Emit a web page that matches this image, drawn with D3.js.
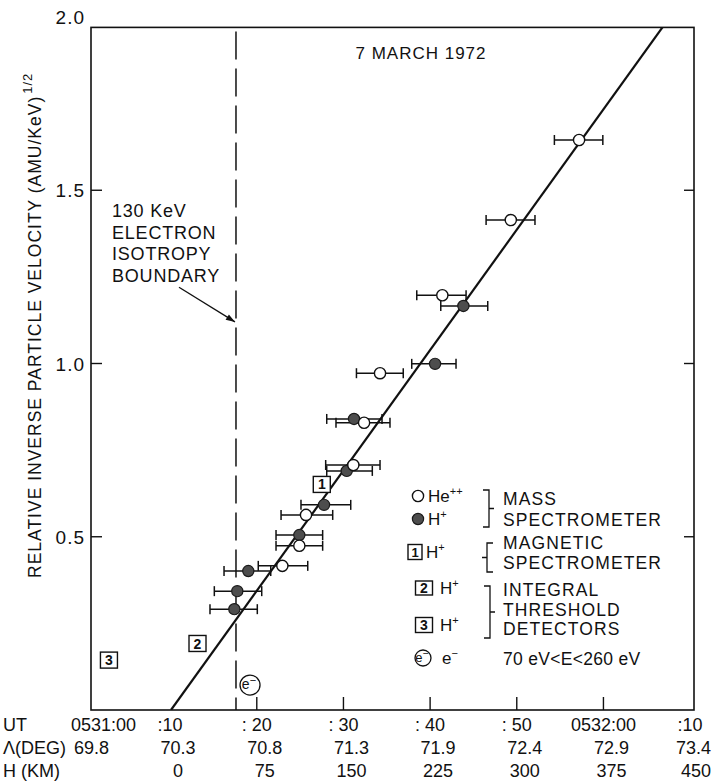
<!DOCTYPE html>
<html>
<head>
<meta charset="utf-8">
<script src="https://cdn.jsdelivr.net/npm/d3@7"></script>
<style>
body { margin: 0; background: #fff; }
svg text { font-family: "Liberation Sans", Arial, sans-serif; fill: #111; }
</style>
</head>
<body>
<div class="app"></div>
<script>
// time in seconds after 0531:00 UT, value = relative inverse velocity
var heTime  = [22.95, 24.91, 25.68, 31.14, 32.38, 34.22, 41.41, 49.31, 57.19];
var heValue = [0.416, 0.474, 0.563, 0.707, 0.829, 0.972, 1.197, 1.414, 1.645];
var heErrLo = [20.17, 22.22, 22.80, 27.95, 29.14, 31.50, 38.46, 46.46, 54.34];
var heErrHi = [25.88, 27.60, 28.76, 34.22, 35.37, 36.90, 44.15, 52.10, 59.93];

var hTime  = [17.41, 17.75, 19.02, 24.91, 27.76, 30.38, 31.22, 40.57, 43.84];
var hValue = [0.291, 0.343, 0.401, 0.505, 0.592, 0.690, 0.840, 0.999, 1.166];
var hErrLo = [14.60, 15.10, 16.22, 22.22, 25.10, 28.07, 28.07, 37.88, 41.23];
var hErrHi = [20.06, 20.57, 21.61, 27.60, 30.84, 33.33, 34.45, 42.99, 46.65];

var boxLabel = ["1", "2", "3"];
var boxTime  = [27.5, 13.16, 2.94];
var boxValue = [0.651, 0.192, 0.144];

var electronTime = 19.22;
var electronValue = 0.072;
var boundaryTime = 17.6;

var fitTime  = [10.1, 67.67];
var fitValue = [0.0, 2.0];

var yTicks = [0.5, 1.0, 1.5];
var yTickLabels = [0.5, 1.0, 1.5, 2.0];
var utTicks = [20, 30, 40, 50, 60];
var labelTime = [0, 10, 20, 30, 40, 50, 60, 70];
var utLabels  = ["0531:00", ":10", ": 20", ": 30", ": 40", ": 50", "0532:00", ":10"];
var latLabels = ["69.8", "70.3", "70.8", "71.3", "71.9", "72.4", "72.9", "73.4"];
var altLabels = ["", "0", "75", "150", "225", "300", "375", "450"];

var width = 714, height = 781;
var svg = d3.select(".app").append("svg").attr("width", width).attr("height", height);

var x = d3.scaleLinear().domain([0.87, 70.45]).range([91, 694]);
var y = d3.scaleLinear().domain([0, 1.97]).range([710, 27.4]);

var plotLeft = x.range()[0], plotRight = x.range()[1];
var plotTop = y.range()[1], plotBottom = y.range()[0];

svg.append("clipPath").attr("id", "frame")
    .append("rect").attr("x", plotLeft).attr("y", plotTop)
    .attr("width", plotRight - plotLeft).attr("height", plotBottom - plotTop);

// frame
svg.append("rect").attr("x", plotLeft).attr("y", plotTop)
    .attr("width", plotRight - plotLeft).attr("height", plotBottom - plotTop)
    .attr("fill", "none").attr("stroke", "#111").attr("stroke-width", 1.6);

// y ticks, inside on both sides
yTicks.forEach(function(v){
    svg.append("line").attr("x1", plotLeft).attr("x2", plotLeft + 11).attr("y1", y(v)).attr("y2", y(v))
        .attr("stroke", "#111").attr("stroke-width", 1.4);
    svg.append("line").attr("x1", plotRight - 10).attr("x2", plotRight).attr("y1", y(v)).attr("y2", y(v))
        .attr("stroke", "#111").attr("stroke-width", 1.4);
});
svg.selectAll(".ylab").data(yTickLabels).enter().append("text")
    .attr("x", plotLeft - 6).attr("y", function(d){ return y(d) + 7; })
    .attr("text-anchor", "end").attr("font-size", 19).attr("letter-spacing", 1)
    .text(function(d){ return d.toFixed(1); });

// x ticks on bottom axis
utTicks.forEach(function(t){
    svg.append("line").attr("x1", x(t)).attr("x2", x(t)).attr("y1", plotBottom).attr("y2", plotBottom - 13)
        .attr("stroke", "#111").attr("stroke-width", 1.4);
});

// bottom label rows
function labelRow(title, labels, off, yy){
    svg.append("text").attr("x", 3).attr("y", yy).attr("font-size", 18).text(title);
    var rowStart = title === "UT" ? 71 : 70;
    labels.forEach(function(s, i){
        if (!s) return;
        var cx = x(labelTime[i]) + off;
        var t = svg.append("text").attr("x", cx).attr("y", yy)
            .attr("text-anchor", "middle").attr("font-size", 18).text(s);
        var w = t.node().getComputedTextLength();
        if (cx - w / 2 < rowStart) cx = rowStart + w / 2;
        if (cx + w / 2 > 711) cx = 711 - w / 2;
        t.attr("x", cx);
    });
}
labelRow("UT", utLabels, 0, 731);
labelRow("\u039B(DEG)", latLabels, 8, 754);
labelRow("H (KM)", altLabels, 8, 777);

// axis title
var yt = svg.append("text").attr("transform", "translate(41,578) rotate(-90)")
    .attr("font-size", 17.5).attr("letter-spacing", 1);
yt.append("tspan").text("RELATIVE INVERSE PARTICLE VELOCITY (AMU/KeV)");
yt.append("tspan").attr("dy", -9).attr("dx", 2).attr("font-size", 13).text("1/2");

// title
svg.append("text").attr("x", 421).attr("y", 59).attr("text-anchor", "middle")
    .attr("font-size", 17).attr("letter-spacing", 1).text("7 MARCH 1972");

// isotropy boundary
svg.append("line").attr("x1", x(boundaryTime)).attr("x2", x(boundaryTime))
    .attr("y1", plotTop + 4).attr("y2", plotBottom)
    .attr("stroke", "#111").attr("stroke-width", 1.5).attr("stroke-dasharray", "28,9");

var note = ["130 KeV", "ELECTRON", "ISOTROPY", "BOUNDARY"];
note.forEach(function(s, i){
    svg.append("text").attr("x", 112).attr("y", 217 + i * 21.5).attr("font-size", 18)
        .attr("letter-spacing", 0.8).text(s);
});
svg.append("defs").append("marker").attr("id", "arr").attr("viewBox", "0 0 10 10")
    .attr("refX", 10).attr("refY", 5).attr("markerWidth", 9).attr("markerHeight", 7).attr("orient", "auto")
    .append("path").attr("d", "M0,1.5L10,5L0,8.5z").attr("fill", "#111");
svg.append("line").attr("x1", x(boundaryTime) - 57).attr("y1", y(1.22))
    .attr("x2", x(boundaryTime) - 1).attr("y2", y(1.12))
    .attr("stroke", "#111").attr("stroke-width", 1.3).attr("marker-end", "url(#arr)");

// fitted line
var line = d3.line().x(function(d){ return x(d[0]); }).y(function(d){ return y(d[1]); });
svg.append("path").datum(d3.zip(fitTime, fitValue)).attr("d", line)
    .attr("clip-path", "url(#frame)").attr("fill", "none").attr("stroke", "#111").attr("stroke-width", 2.2);

// error bars
function errorBars(ts, vs, lo, hi){
    ts.forEach(function(t, i){
        var g = svg.append("g").attr("stroke", "#111").attr("stroke-width", 1.5);
        g.append("line").attr("x1", x(lo[i])).attr("x2", x(hi[i])).attr("y1", y(vs[i])).attr("y2", y(vs[i]));
        g.append("line").attr("x1", x(lo[i])).attr("x2", x(lo[i])).attr("y1", y(vs[i]) - 5).attr("y2", y(vs[i]) + 5);
        g.append("line").attr("x1", x(hi[i])).attr("x2", x(hi[i])).attr("y1", y(vs[i]) - 5).attr("y2", y(vs[i]) + 5);
    });
}
errorBars(hTime, hValue, hErrLo, hErrHi);
errorBars(heTime, heValue, heErrLo, heErrHi);

svg.selectAll(".hp").data(d3.zip(hTime, hValue)).enter().append("circle")
    .attr("cx", function(d){ return x(d[0]); }).attr("cy", function(d){ return y(d[1]); }).attr("r", 5.6)
    .attr("fill", "#4d4d4d").attr("stroke", "#1a1a1a").attr("stroke-width", 1.2);
svg.selectAll(".hep").data(d3.zip(heTime, heValue)).enter().append("circle")
    .attr("cx", function(d){ return x(d[0]); }).attr("cy", function(d){ return y(d[1]); }).attr("r", 5.6)
    .attr("fill", "#fff").attr("stroke", "#111").attr("stroke-width", 1.4);

// detector boxes
function numBox(cx, cy, s, w, h, fs){
    svg.append("rect").attr("x", cx - w / 2).attr("y", cy - h / 2).attr("width", w).attr("height", h)
        .attr("fill", "#fff").attr("stroke", "#111").attr("stroke-width", 1.4);
    svg.append("text").attr("x", cx).attr("y", cy + fs * 0.36).attr("text-anchor", "middle")
        .attr("font-size", fs).attr("font-weight", "bold").text(s);
}
boxLabel.forEach(function(s, i){ numBox(x(boxTime[i]), y(boxValue[i]), s, 17, 16, 14); });

function electron(cx, cy, r, fs){
    svg.append("circle").attr("cx", cx).attr("cy", cy).attr("r", r)
        .attr("fill", "#fff").attr("stroke", "#111").attr("stroke-width", 1.3);
    var t = svg.append("text").attr("x", cx - 1).attr("y", cy + fs * 0.3).attr("text-anchor", "middle").attr("font-size", fs);
    t.append("tspan").text("e");
    t.append("tspan").attr("dy", -fs * 0.4).attr("font-size", fs * 0.8).text("\u2212");
}
electron(x(electronTime), y(electronValue), 10, 14);

// legend
function sup(base, s, yy, xx){
    var tx = svg.append("text").attr("x", xx).attr("y", yy).attr("font-size", 17);
    tx.append("tspan").text(base);
    tx.append("tspan").attr("dy", -7).attr("font-size", 11).text(s);
}
svg.append("circle").attr("cx", 418).attr("cy", 496).attr("r", 5.6)
    .attr("fill", "#fff").attr("stroke", "#111").attr("stroke-width", 1.4);
sup("He", "++", 502, 428);
svg.append("circle").attr("cx", 418).attr("cy", 519).attr("r", 5.6)
    .attr("fill", "#4d4d4d").attr("stroke", "#1a1a1a").attr("stroke-width", 1.2);
sup("H", "+", 525, 428);

numBox(415, 552, "1", 14, 15, 13);
sup("H", "+", 558, 426);
numBox(424, 588, "2", 17, 14, 14);
sup("H", "+", 594, 440);
numBox(424, 625, "3", 17, 15, 14);
sup("H", "+", 631, 440);
electron(423, 658, 8, 13);
var et = svg.append("text").attr("x", 442).attr("y", 664).attr("font-size", 17);
et.append("tspan").text("e");
et.append("tspan").attr("dy", -7).attr("font-size", 11).text("\u2212");

function bracket(xv, y0, y1, dir, tick){
    var ym = (y0 + y1) / 2;
    var p = "M" + (xv + dir * 6) + "," + y0 + "H" + xv + "V" + y1 + "H" + (xv + dir * 6)
        + "M" + xv + "," + ym + "H" + (xv + tick);
    svg.append("path").attr("d", p).attr("fill", "none").attr("stroke", "#111").attr("stroke-width", 1.3);
}
bracket(489, 490, 527, -1, 5);
bracket(487, 543, 572, 1, -5);
bracket(490, 586, 638, -1, 5);

var legendText = [["MASS", 505], ["SPECTROMETER", 526], ["MAGNETIC", 549], ["SPECTROMETER", 569],
    ["INTEGRAL", 596], ["THRESHOLD", 616], ["DETECTORS", 635]];
legendText.forEach(function(d){
    svg.append("text").attr("x", 503).attr("y", d[1]).attr("font-size", 17.5).attr("letter-spacing", 1.1).text(d[0]);
});
svg.append("text").attr("x", 503).attr("y", 665).attr("font-size", 17.5).attr("letter-spacing", 0.3)
    .text("70 eV<E<260 eV");
</script>
</body>
</html>
